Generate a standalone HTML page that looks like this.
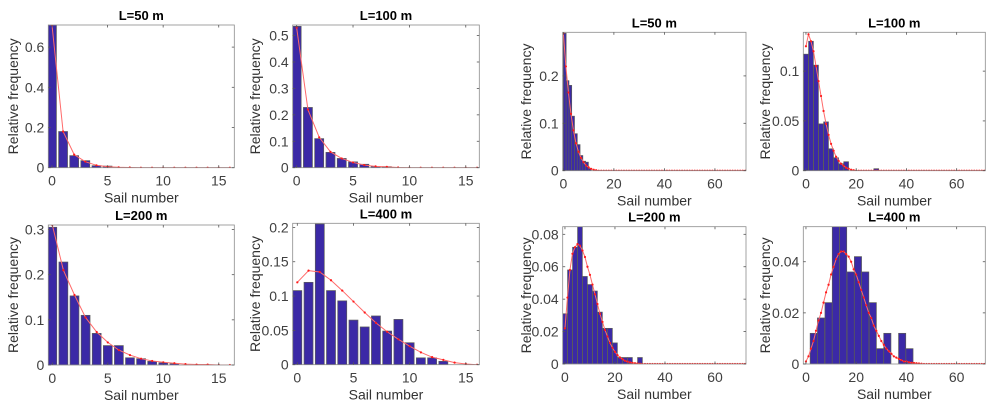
<!DOCTYPE html>
<html><head><meta charset="utf-8"><style>
html,body{margin:0;padding:0;background:#fff;}
svg{display:block;font-family:"Liberation Sans",Arial,sans-serif;}
</style></head><body>
<svg id="fig" width="999" height="412" viewBox="0 0 999 412"></svg>
<script>
// ---- data ----
const leftCats = [0,1,2,3,4,5,6,7,8,9,10,11,12,13,14,15,16];
const bars50L = [0.71,0.18,0.06,0.035,0.01,0.008,0,0,0,0,0,0,0,0,0,0,0];
const fit50L = [0.71,0.18,0.065,0.03,0.012,0.005,0.002,0.001,0,0,0,0,0,0,0,0,0];
const bars100L = [0.535,0.228,0.11,0.058,0.035,0.022,0.013,0.005,0.004,0,0,0,0,0,0,0,0];
const fit100L = [0.53,0.22,0.115,0.06,0.035,0.02,0.01,0.005,0.003,0.001,0,0,0,0,0,0,0];
const bars200L = [0.305,0.228,0.153,0.11,0.07,0.043,0.043,0.016,0.014,0.008,0.005,0.003,0,0,0,0,0];
const fit200L = [0.31,0.21,0.155,0.105,0.073,0.05,0.033,0.022,0.014,0.009,0.006,0.004,0.002,0.001,0.001,0,0];
const bars400L = [0.108,0.12,0.205,0.108,0.093,0.065,0.055,0.071,0.049,0.066,0.032,0.01,0.01,0.005,0,0,0];
const fit400L = [0.12,0.137,0.135,0.123,0.108,0.092,0.076,0.061,0.048,0.037,0.027,0.018,0.011,0.007,0.003,0.001,0];

const fitX = [];
for (let i = 0; i <= 72; i++) fitX.push(i);
const cats50R = [0.55,1.65,2.75,3.85,4.95,6.05,7.15,8.25,9.35,10.45];
const bars50R = [0.29,0.19,0.18,0.115,0.078,0.055,0.032,0.02,0.018,0.005];
const fit50R = [0.29,0.22,0.165,0.12,0.085,0.058,0.04,0.027,0.018,0.011,0.007,0.004,0.002,0.001].concat(Array(59).fill(0));
const cats100R = [0,2,4,6,8,10,12,14,16,18,20,22,24,26,28];
const bars100R = [0.117,0.13,0.106,0.047,0.049,0.022,0.013,0.007,0.009,0,0,0,0,0,0.002];
const fit100R = [0.125,0.137,0.13,0.12,0.105,0.09,0.075,0.06,0.047,0.036,0.027,0.02,0.014,0.01,0.007,0.005,0.003,0.002,0.001,0.0005].concat(Array(53).fill(0));
const cats200R = [0,2,4,6,8,10,12,14,16,18,20,22,24,26,28,30];
const bars200R = [0.031,0.058,0.072,0.085,0.054,0.049,0.045,0.032,0.022,0.022,0.013,0.004,0.004,0.004,0,0.004];
const fit200R = [0.022,0.041,0.058,0.068,0.072,0.074,0.073,0.07,0.066,0.06,0.055,0.049,0.043,0.037,0.031,0.026,0.021,0.017,0.013,0.01,0.0075,0.0055,0.004,0.003,0.002,0.0015,0.001,0.0007,0.0005,0.0003,0.0002].concat(Array(42).fill(0));
const cats400R = [3.1,6.0,9.0,11.9,14.8,17.8,20.7,23.6,26.6,29.5,32.4,35.4,38.3,41.2];
const bars400R = [0.012,0.018,0.024,0.054,0.054,0.036,0.042,0.036,0.024,0.006,0.012,0,0.012,0.006];
const fit400R = [0.001,0.003,0.006,0.009,0.013,0.017,0.02,0.024,0.028,0.031,0.035,0.038,0.041,0.043,0.044,0.044,0.043,0.042,0.04,0.037,0.035,0.032,0.029,0.026,0.023,0.02,0.018,0.015,0.013,0.011,0.009,0.0075,0.006,0.005,0.004,0.003,0.0025,0.002,0.0015,0.001,0.001,0.0007,0.0005,0.0004,0.0003,0.0002,0.0001].concat(Array(26).fill(0));

const leftXTicks = [0,5,10,15];
const rightXTicks = [0,20,40,60];

// ---- layout ----
const panels = [
 {name:'l50',title:'L=50 m',box:[48.3,25,234.3,167.7],xr:[-0.33,16.4],yr:[0,0.71],yt:[0,0.2,0.4,0.6],xt:leftXTicks,cats:leftCats,bars:bars50L,bw:0.8,fx:leftCats,fit:fit50L,ylx:18},
 {name:'l100',title:'L=100 m',box:[292.7,25,479.3,167.7],xr:[-0.35,16.2],yr:[0,0.54],yt:[0,0.1,0.2,0.3,0.4,0.5],xt:leftXTicks,cats:leftCats,bars:bars100L,bw:0.8,fx:leftCats,fit:fit100L,ylx:260},
 {name:'r50',title:'L=50 m',box:[562.7,32.3,746,170.7],xr:[-0.26,72.3],yr:[0,0.292],yt:[0,0.1,0.2],xt:rightXTicks,cats:cats50R,bars:bars50R,bw:1.1,fx:fitX,fit:fit50R,ylx:531},
 {name:'r100',title:'L=100 m',box:[803.3,32.3,985.3,170.7],xr:[-1.06,71.4],yr:[0,0.139],yt:[0,0.05,0.1],xt:rightXTicks,cats:cats100R,bars:bars100R,bw:1.9,fx:fitX,fit:fit100R,ylx:770},
 {name:'l200',title:'L=200 m',box:[48.3,225,234.3,365],xr:[-0.36,16.4],yr:[0,0.31],yt:[0,0.1,0.2,0.3],xt:leftXTicks,cats:leftCats,bars:bars200L,bw:0.8,fx:leftCats,fit:fit200L,ylx:18},
 {name:'l400',title:'L=400 m',box:[292.7,223.3,479.3,364.7],xr:[-0.41,16.2],yr:[0,0.206],yt:[0,0.05,0.1,0.15,0.2],xt:leftXTicks,cats:leftCats,bars:bars400L,bw:0.8,fx:leftCats,fit:fit400L,ylx:260},
 {name:'r200',title:'L=200 m',box:[562.7,226.7,746,364],xr:[-0.9,72.4],yr:[0,0.0847],yt:[0,0.02,0.04,0.06,0.08],xt:rightXTicks,cats:cats200R,bars:bars200R,bw:1.9,fx:fitX,fit:fit200R,ylx:531},
 {name:'r400',title:'L=400 m',box:[803.3,226.7,985.3,364],xr:[-1.06,71.4],yr:[0,0.0537],yt:[0,0.02,0.04],xt:rightXTicks,cats:cats400R,bars:bars400R,bw:2.85,fx:fitX,fit:fit400R,ylx:770}
];

const NS='http://www.w3.org/2000/svg';
const svg=document.getElementById('fig');
function mk(tag,attrs,parent){const e=document.createElementNS(NS,tag);for(const k in attrs)e.setAttribute(k,attrs[k]);(parent||svg).appendChild(e);return e;}
function fmt(v){return String(+v.toFixed(3));}

panels.forEach((p,pi)=>{
  const [x0,y0,x1,y1]=p.box;
  const sx=v=>x0+(v-p.xr[0])/(p.xr[1]-p.xr[0])*(x1-x0);
  const sy=v=>y1-(v-p.yr[0])/(p.yr[1]-p.yr[0])*(y1-y0);
  const g=mk('g',{});
  
  
  const cp=mk('clipPath',{id:'cp'+pi},g);
  mk('rect',{x:x0,y:y0,width:x1-x0,height:y1-y0},cp);
  const bg=mk('g',{'clip-path':'url(#cp'+pi+')'},g);
  p.bars.forEach((v,i)=>{
    if(v<=0)return;
    const c=p.cats[i];
    const r=mk('rect',{x:sx(c-p.bw/2),y:sy(v),width:sx(c+p.bw/2)-sx(c-p.bw/2),height:sy(0)-sy(v),fill:'#3b29a6',stroke:'#5a5a5a','stroke-width':0.7},bg);
    
    
  });
  const pts=p.fx.map((x,i)=>sx(x).toFixed(2)+','+sy(p.fit[i]).toFixed(2)).join(' ');
  const pl=mk('polyline',{points:pts,fill:'none',stroke:'#ff6a6a','stroke-width':1},bg);
  
  
  p.fx.forEach((x,i)=>{
    const d=mk('circle',{cx:sx(x),cy:sy(p.fit[i]),r:1.1,fill:'#ff1a1a'},bg);
    
    
  });
  const box=mk('rect',{x:x0,y:y0,width:x1-x0,height:y1-y0,fill:'none',stroke:'#8c8c8c','stroke-width':0.8},g);
  
  
  p.yt.forEach(t=>{
    const y=sy(t);
    mk('line',{x1:x0,y1:y,x2:x0+2.5,y2:y,stroke:'#555','stroke-width':0.8},g);
    mk('line',{x1:x1,y1:y,x2:x1-2.5,y2:y,stroke:'#555','stroke-width':0.8},g);
    const tl=mk('text',{x:x0-4,y:y+5,'text-anchor':'end','font-size':14,fill:'#404040'},g);
    tl.textContent=fmt(t);
    
    
  });
  p.xt.forEach(t=>{
    const x=sx(t);
    mk('line',{x1:x,y1:y1,x2:x,y2:y1-2.5,stroke:'#555','stroke-width':0.8},g);
    mk('line',{x1:x,y1:y0,x2:x,y2:y0+2.5,stroke:'#555','stroke-width':0.8},g);
    const tl=mk('text',{x:x,y:y1+18,'text-anchor':'middle','font-size':14,fill:'#404040'},g);
    tl.textContent=String(t);
    
    
  });
  const tt=mk('text',{x:(x0+x1)/2,y:y0-5,'text-anchor':'middle','font-size':13,'font-weight':'bold',fill:'#000'},g);
  tt.textContent=p.title;
  
  
  const xl=mk('text',{x:(x0+x1)/2,y:y1+35,'text-anchor':'middle','font-size':14,fill:'#333'},g);
  xl.textContent='Sail number';
  
  
  const yc=(y0+y1)/2;
  const yl=mk('text',{x:p.ylx,y:yc,'text-anchor':'middle','font-size':14,fill:'#333',transform:'rotate(-90 '+p.ylx+' '+yc+')'},g);
  yl.textContent='Relative frequency';
  
  
});
</script>
</body></html>
